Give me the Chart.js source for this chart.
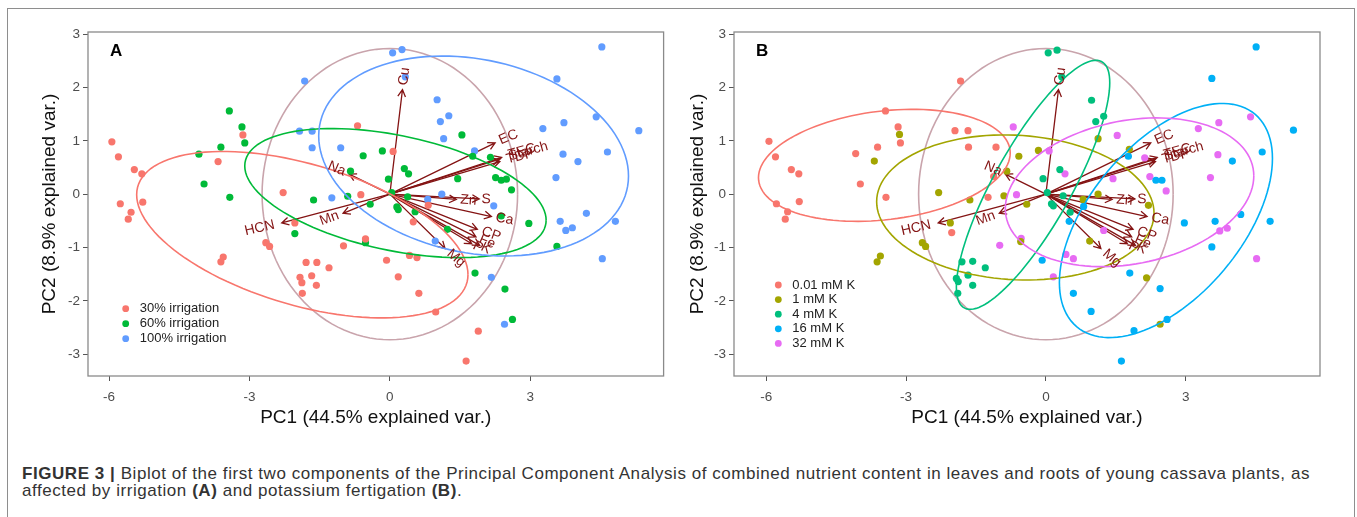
<!DOCTYPE html>
<html>
<head>
<meta charset="utf-8">
<script src="https://cdn.jsdelivr.net/npm/chart.js@4.4.1/dist/chart.umd.min.js"></script>
<style>
body { margin: 0; background: #fff; width: 1357px; height: 517px; overflow: hidden; position: relative; font-family: "Liberation Sans", Arial, sans-serif; }
#frame { position: absolute; left: 7px; top: 8px; width: 1346px; height: 530px; border: 1px solid #8e8e8e; border-bottom: none; }
.panel { position: absolute; top: 0; }
#caption { position: absolute; left: 22px; top: 465px; font-size: 17px; letter-spacing: 0.55px; line-height: 17px; color: #333; white-space: nowrap; }
</style>
</head>
<body>
<div id="frame"></div>
<canvas id="chartA" class="panel" style="left:0px" width="680" height="440"></canvas>
<canvas id="chartB" class="panel" style="left:680px" width="677" height="440"></canvas>
<div id="caption"><b>FIGURE 3 |</b> Biplot of the first two components of the Principal Component Analysis of combined nutrient content in leaves and roots of young cassava plants, as<br>affected by irrigation <b>(A)</b> and potassium fertigation <b>(B)</b>.</div>
<script>
const FONT = '"Liberation Sans", Arial, sans-serif';

const xTicks = [-6, -3, 0, 3];
const yTicks = [-3, -2, -1, 0, 1, 2, 3];

// PCA scores, panel A (irrigation)
const irr30 = [[-5.94,0.98],[-5.80,0.70],[-5.46,0.46],[-5.30,0.38],[-5.76,-0.18],[-5.28,-0.15],[-5.53,-0.34],[-5.59,-0.47],
  [-3.67,0.61],[-3.14,1.11],[-0.69,1.28],[0.07,0.80],[-2.28,0.03],[-2.03,-0.54],[-2.65,-0.91],[-2.57,-0.98],[-3.56,-1.18],
  [-3.61,-1.27],[-1.79,-1.28],[-1.56,-1.28],[-1.30,-1.38],[-1.92,-1.56],[-1.67,-1.53],[-1.88,-1.66],[-1.57,-1.71],[-1.87,-1.86],
  [-0.99,-0.97],[-0.52,-0.84],[-0.07,-1.24],[0.18,-1.55],[0.42,-1.15],[0.58,-1.19],[0.62,-1.86],[0.98,-2.21],[1.89,-2.57],
  [1.63,-3.13],[0.50,-0.52],[0.82,-0.21],[-0.62,-0.01]];
const irr60 = [[-3.43,1.56],[-3.16,1.26],[-3.10,0.96],[-3.61,0.88],[-4.08,0.75],[-3.97,0.19],[-3.42,-0.06],[-2.03,-0.74],
  [-1.63,-0.11],[-0.90,-0.04],[-0.84,0.43],[-0.57,0.72],[-0.16,0.81],[-0.52,-0.91],[-0.42,-0.19],[-0.03,0.28],[0.04,0.03],
  [0.31,0.48],[0.40,0.38],[0.15,-0.24],[0.18,-0.29],[0.38,-0.05],[0.54,-0.33],[1.23,-0.66],[1.45,0.29],[1.54,1.11],[1.77,0.71],
  [2.15,0.69],[2.26,0.31],[2.38,0.26],[2.49,0.28],[2.60,0.08],[2.38,-0.41],[2.97,-0.55],[3.57,-0.98],[1.82,-1.48],[2.46,-1.78],
  [2.62,-2.35]];
const irr100 = [[0.06,2.65],[0.26,2.71],[0.33,2.20],[-1.82,2.12],[-1.93,1.18],[-1.66,1.18],[-1.66,0.87],[-1.05,0.87],
  [-1.24,-0.07],[1.01,1.77],[1.08,1.36],[1.26,1.47],[1.15,1.04],[1.81,0.81],[1.11,0.00],[0.81,-0.10],[0.97,-0.88],[2.22,-0.22],
  [2.17,-1.56],[2.45,-2.44],[3.27,1.23],[3.72,1.34],[3.70,0.75],[4.02,0.61],[3.55,0.31],[3.57,2.16],[4.41,1.45],[4.53,2.76],
  [5.32,1.19],[4.65,0.79],[4.20,-0.36],[3.64,-0.51],[3.76,-0.68],[3.90,-0.63],[4.82,-0.51],[4.54,-1.21]];

// PCA scores, panel B (potassium)
const k001 = [[-5.94,0.99],[-5.80,0.70],[-5.46,0.46],[-5.30,0.38],[-5.78,-0.18],[-5.29,-0.14],[-5.54,-0.33],[-5.59,-0.47],
  [-4.08,0.76],[-3.98,0.19],[-3.61,0.88],[-3.44,1.56],[-3.17,1.26],[-3.12,0.96],[-3.43,-0.06],[-1.83,2.12],[-1.95,1.19],
  [-1.67,1.19],[-1.66,0.88],[-1.07,0.88],[-1.12,0.33],[-1.24,-0.06],[-2.02,-0.72]];
const k1 = [[-3.14,1.12],[-3.68,0.62],[-2.30,0.03],[-1.63,-0.11],[-2.05,-0.54],[-2.65,-0.91],[-2.58,-0.98],[-3.55,-1.16],
  [-3.62,-1.27],[-0.90,-0.03],[-0.84,0.43],[-0.58,0.71],[-0.41,-0.19],[-0.54,-0.89],[-0.16,0.82],[1.12,1.04],[1.79,0.84],
  [0.80,-0.10],[1.12,0.00],[2.20,-0.21],[0.94,-0.88],[2.16,-1.57],[2.45,-2.44]];
const k4 = [[0.05,2.65],[0.24,2.70],[0.34,2.20],[0.98,1.76],[1.07,1.36],[1.24,1.46],[0.30,0.46],[-0.06,0.29],[0.03,0.03],
  [0.37,-0.03],[0.12,-0.18],[0.16,-0.22],[0.52,-0.34],[-1.80,-1.27],[-1.57,-1.26],[-1.30,-1.38],[-1.92,-1.58],[-1.88,-1.64],
  [-1.89,-1.86],[-1.67,-1.52],[-1.57,-1.71]];
const k16 = [[4.51,2.76],[3.56,2.17],[5.31,1.20],[4.64,0.79],[4.00,0.62],[1.77,0.71],[2.36,0.26],[2.49,0.26],[2.97,-0.54],
  [3.63,-0.51],[4.18,-0.38],[4.81,-0.51],[3.56,-0.99],[0.50,-0.51],[0.81,-0.23],[-0.08,-1.24],[1.80,-1.48],[2.45,-1.77],
  [0.59,-1.86],[0.97,-2.20],[1.89,-2.56],[2.60,-2.35],[1.62,-3.13]];
const k32 = [[3.27,1.23],[3.71,1.34],[4.39,1.45],[3.69,0.74],[3.53,0.31],[1.53,1.10],[2.12,0.68],[1.44,0.29],[2.23,0.33],
  [2.58,0.06],[0.41,0.38],[1.24,-0.68],[3.73,-0.69],[3.89,-0.64],[4.52,-1.21],[0.43,-1.13],[0.59,-1.21],[0.16,-1.55],
  [0.07,0.81],[-0.70,1.26],[-0.63,-0.01],[-0.99,-0.96],[-0.53,-0.83]];

// variable loadings (arrow tips)
const varNames = ['Cu','EC','TEC','Starch','TDP','Na','HCN','Mn','Zn','S','Ca','CP','Fe','P','K','Mg'];
const varX = [0.27, 2.25, 2.39, 2.33, 2.35, -0.87, -2.31, -1.00, 1.42, 1.91, 2.17, 1.87, 1.84, 1.75, 1.92, 1.18];
const varY = [1.96, 0.96, 0.69, 0.65, 0.61, 0.375, -0.54, -0.36, -0.10, -0.09, -0.42, -0.66, -0.80, -0.93, -0.96, -1.02];

// ellipses: centre x, centre y, half width, half height, correlation
const corCircle = [0, 0, 2.73, 2.73, 0];
const ellIrr30 = [-1.87, -0.76, 3.54, 1.56, -0.48];
const ellIrr60 = [0.12, 0.02, 3.22, 1.21, -0.42];
const ellIrr100 = [1.79, 0.715, 3.31, 1.875, -0.2];
const ellK001 = [-3.465, 0.54, 2.70, 1.05, 0.22];
const ellK1 = [-0.655, -0.25, 2.975, 1.36, -0.08];
const ellK4 = [-0.275, 0.175, 1.645, 2.335, 0.82];
const ellK16 = [2.575, -0.495, 2.285, 2.195, 0.53];
const ellK32 = [1.795, 0.035, 2.665, 1.395, 0.22];

function drawEllipse(chart, e, color) {
    const ctx = chart.ctx;
    const sx = chart.scales.x, sy = chart.scales.y;
    const q = Math.sqrt(1 - e[4] * e[4]);
    ctx.beginPath();
    for (let i = 0; i <= 120; i++) {
        const t = i / 120 * Math.PI * 2;
        const x = e[0] + e[2] * Math.cos(t);
        const y = e[1] + e[3] * (e[4] * Math.cos(t) + q * Math.sin(t));
        const px = sx.getPixelForValue(x), py = sy.getPixelForValue(y);
        if (i === 0) ctx.moveTo(px, py); else ctx.lineTo(px, py);
    }
    ctx.strokeStyle = color;
    ctx.lineWidth = 1.6;
    ctx.stroke();
}

const biplot = {
    id: 'biplot',
    beforeDatasetsDraw(chart, args, opts) {
        const ctx = chart.ctx, a = chart.chartArea;
        const sx = chart.scales.x, sy = chart.scales.y;
        ctx.save();
        ctx.beginPath();
        ctx.rect(a.left, a.top, a.right - a.left, a.bottom - a.top);
        ctx.clip();
        drawEllipse(chart, corCircle, '#c9a4ac');
        const ox = sx.getPixelForValue(0), oy = sy.getPixelForValue(0);
        ctx.strokeStyle = '#841414';
        ctx.lineWidth = 1.3;
        varX.forEach((vx, i) => {
            const tx = sx.getPixelForValue(vx), ty = sy.getPixelForValue(varY[i]);
            const ang = Math.atan2(ty - oy, tx - ox);
            ctx.beginPath();
            ctx.moveTo(ox, oy);
            ctx.lineTo(tx, ty);
            ctx.moveTo(tx - 8 * Math.cos(ang - 0.5), ty - 8 * Math.sin(ang - 0.5));
            ctx.lineTo(tx, ty);
            ctx.lineTo(tx - 8 * Math.cos(ang + 0.5), ty - 8 * Math.sin(ang + 0.5));
            ctx.stroke();
        });
        ctx.restore();
    },
    afterDatasetsDraw(chart, args, opts) {
        const ctx = chart.ctx, a = chart.chartArea;
        const sx = chart.scales.x, sy = chart.scales.y;
        ctx.save();
        ctx.beginPath();
        ctx.rect(a.left, a.top, a.right - a.left, a.bottom - a.top);
        ctx.clip();
        opts.groups.forEach(g => drawEllipse(chart, g.ellipse, g.color));

        // variable names, rotated along their arrows
        ctx.fillStyle = '#841414';
        ctx.font = '14px ' + FONT;
        ctx.textBaseline = 'middle';
        varNames.forEach((name, i) => {
            const tx = sx.getPixelForValue(varX[i]), ty = sy.getPixelForValue(varY[i]);
            const ang = Math.atan(varY[i] / varX[i]);
            const w = ctx.measureText(name).width;
            ctx.save();
            ctx.translate(tx, ty);
            ctx.rotate(-ang);
            if (varX[i] > 0) {
                ctx.textAlign = 'left';
                ctx.fillText(name, 0.25 * w, 0);
            } else {
                ctx.textAlign = 'right';
                ctx.fillText(name, -0.25 * w, 0);
            }
            ctx.restore();
        });
        ctx.restore();

        // panel letter
        ctx.save();
        ctx.fillStyle = '#000';
        ctx.font = 'bold 17px ' + FONT;
        ctx.textBaseline = 'middle';
        ctx.textAlign = 'left';
        ctx.fillText(opts.letter, a.left + 22, a.top + 19.5);

        // legend
        ctx.font = '13px ' + FONT;
        opts.groups.forEach((g, i) => {
            const ly = opts.legendY + i * opts.legendStep;
            ctx.fillStyle = g.color;
            ctx.beginPath();
            ctx.arc(a.left + opts.legendX, ly, 3.4, 0, Math.PI * 2);
            ctx.fill();
            ctx.fillStyle = '#222';
            ctx.fillText(g.name, a.left + opts.legendX + 14, ly);
        });

        // panel border
        ctx.strokeStyle = '#8a8a8a';
        ctx.lineWidth = 1.3;
        ctx.strokeRect(a.left, a.top, a.right - a.left, a.bottom - a.top);
        ctx.restore();
    }
};

function makePanel(id, groups, xMin, xMax, pad, yTitlePad, legend) {
    const ctx = document.getElementById(id).getContext('2d');
    return new Chart(ctx, {
        type: 'scatter',
        data: {
            datasets: groups.map(g => ({
                label: g.name,
                data: g.points.map(p => ({ x: p[0], y: p[1] })),
                pointRadius: 3.6,
                pointHoverRadius: 3.6,
                pointBackgroundColor: g.color,
                pointBorderWidth: 0
            }))
        },
        options: {
            responsive: false,
            animation: false,
            layout: { padding: { left: 0, right: pad.right, top: 32, bottom: 0 } },
            plugins: {
                legend: { display: false },
                tooltip: { enabled: false },
                biplot: { groups, letter: legend.letter, legendX: legend.x, legendY: legend.y, legendStep: legend.step }
            },
            scales: {
                x: {
                    type: 'linear',
                    min: xMin,
                    max: xMax,
                    afterBuildTicks: s => { s.ticks = xTicks.map(v => ({ value: v })); },
                    afterFit: s => { s.height = 64; },
                    grid: { drawOnChartArea: false, tickLength: 5, color: '#555' },
                    border: { display: false },
                    ticks: { padding: 8, color: '#4d4d4d', font: { family: FONT, size: 13.5 } },
                    title: { display: true, text: 'PC1 (44.5% explained var.)', color: '#111',
                        font: { family: FONT, size: 19 }, padding: { top: 0, bottom: 10.5 } }
                },
                y: {
                    type: 'linear',
                    min: -3.41,
                    max: 3.04,
                    afterBuildTicks: s => { s.ticks = yTicks.map(v => ({ value: v })); },
                    afterFit: s => { s.width = pad.left; },
                    grid: { drawOnChartArea: false, tickLength: 5, color: '#555' },
                    border: { display: false },
                    ticks: { padding: 3, color: '#4d4d4d', font: { family: FONT, size: 13.5 } },
                    title: { display: true, text: 'PC2 (8.9% explained var.)', color: '#111',
                        font: { family: FONT, size: 19 }, padding: { top: yTitlePad, bottom: 0 } }
                }
            }
        },
        plugins: [biplot]
    });
}

makePanel('chartA', [
    { name: '30% irrigation', color: '#F8766D', points: irr30, ellipse: ellIrr30 },
    { name: '60% irrigation', color: '#00BA38', points: irr60, ellipse: ellIrr60 },
    { name: '100% irrigation', color: '#619CFF', points: irr100, ellipse: ellIrr100 }
], -6.45, 5.85, { left: 88, right: 16.4 }, 38.6, { letter: 'A', x: 37.7, y: 308.7, step: 15 });

makePanel('chartB', [
    { name: '0.01 mM K', color: '#F8766D', points: k001, ellipse: ellK001 },
    { name: '1 mM K', color: '#A3A500', points: k1, ellipse: ellK1 },
    { name: '4 mM K', color: '#00BF7D', points: k4, ellipse: ellK4 },
    { name: '16 mM K', color: '#00B0F6', points: k16, ellipse: ellK16 },
    { name: '32 mM K', color: '#E76BF3', points: k32, ellipse: ellK32 }
], -6.69, 5.88, { left: 54, right: 37 }, 6.6, { letter: 'B', x: 44.3, y: 285, step: 14.6 });
</script>
</body>
</html>
